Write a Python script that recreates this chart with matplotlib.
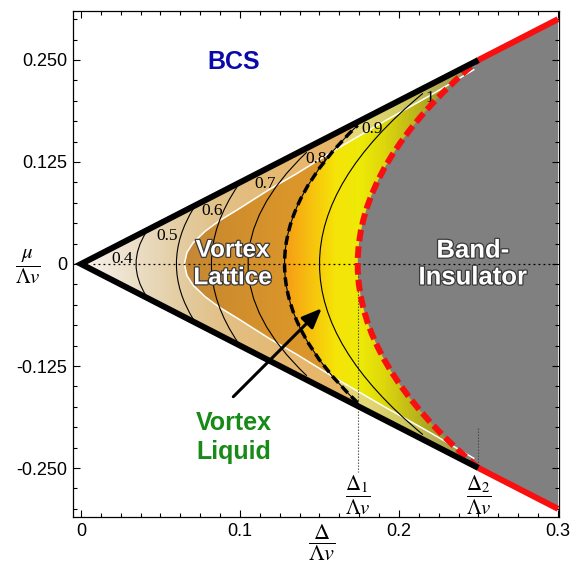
import numpy as np
import matplotlib.pyplot as plt
import matplotlib.patheffects as pe
from matplotlib.path import Path
from matplotlib.patches import PathPatch
from matplotlib.transforms import Affine2D
from matplotlib.ticker import MultipleLocator

plt.rcParams['font.family'] = ['Liberation Sans', 'DejaVu Sans']
plt.rcParams['mathtext.fontset'] = 'stix'

# values
delta_1 = 0.174
delta_2 = 0.25
delta_max = 0.3

# thin contour lines: apex on mu=0 and upper end (mirrored for mu<0)
contour_vertex = [0.0346, 0.060, 0.082, 0.105, 0.150]
contour_end_x = [0.041, 0.071, 0.099, 0.142, 0.215]
contour_end_y = [0.039, 0.069, 0.097, 0.137, 0.209]
contour_labels = ['0.4', '0.5', '0.6', '0.7', '0.8', '0.9', '1']
label_x = [0.0261, 0.0541, 0.0824, 0.1157, 0.148, 0.1833, 0.2195]
label_y = [0.0061, 0.0343, 0.065, 0.098, 0.1287, 0.1654, 0.204]

# melting line (black dashed) and band insulator line (red dashed)
melt_vertex, melt_end_x, melt_end_y = 0.128, 0.174, 0.170
band_vertex, band_end_x, band_end_y = delta_1, delta_2, delta_2

# white line, upper half
white_x = [0.065, 0.0666, 0.0705, 0.078, 0.087, 0.098, 0.119, 0.135, 0.16, 0.19, 0.22, 0.247]
white_y = [0.0, 0.014, 0.026, 0.04, 0.053, 0.066, 0.092, 0.11, 0.14, 0.174, 0.207, 0.238]

x_ticks = [0, 0.1, 0.2, 0.3]
x_tick_labels = ['0', '0.1', '0.2', '0.3']
y_ticks = [-0.25, -0.125, 0, 0.125, 0.25]
y_tick_labels = ['-0.250', '-0.125', '0', '0.125', '0.250']

# colour ramps along Delta
lat_dark = ([0, 0.03, 0.065, 0.09, 0.13],
            [(246, 240, 232), (232, 214, 182), (196, 136, 56), (206, 140, 46), (218, 150, 42)])
lat_light = ([0, 0.035, 0.06, 0.08, 0.1, 0.13, 0.175],
             [(247, 243, 237), (235, 222, 198), (228, 206, 165), (226, 196, 142),
              (226, 190, 128), (230, 184, 112), (232, 180, 100)])
liq_dark = ([0.12, 0.13, 0.145, 0.16, 0.175, 0.19, 0.205, 0.225, 0.25],
            [(243, 140, 30), (246, 160, 22), (247, 195, 14), (245, 228, 8), (238, 234, 6),
             (222, 216, 12), (196, 190, 24), (160, 154, 40), (122, 120, 62)])
liq_light = ([0.16, 0.18, 0.21, 0.25],
             [(232, 214, 120), (228, 216, 118), (200, 194, 88), (140, 136, 72)])


def ramp(xs, spec):
    anchors, colors = spec
    c = np.array(colors) / 255.0
    return np.stack([np.interp(xs, anchors, c[:, i]) for i in range(3)], axis=-1)


def parabola(x0, xe, ye):
    # quadratic bezier from lower end to upper end with apex (x0, 0)
    return Path([(xe, -ye), (2 * x0 - xe, 0.0), (xe, ye)],
                [Path.MOVETO, Path.CURVE3, Path.CURVE3])


def flat(path):
    # curves flattened to a plain polygon for hit testing (scaled up so the
    # curve approximation is fine enough)
    poly = path.to_polygons(transform=Affine2D().scale(5000), closed_only=False)[0]
    return Path(poly / 5000.0)


fig = plt.figure(figsize=(5.83, 5.67), dpi=100)
ax = fig.add_axes([73 / 583, 1 - 517 / 567, 486 / 583, 506 / 567])

# regions
band_ctrl = 2 * band_vertex - band_end_x
color_path = Path([(0, 0), (band_end_x, band_end_y), (band_ctrl, 0), (band_end_x, -band_end_y), (0, 0)],
                  [Path.MOVETO, Path.LINETO, Path.CURVE3, Path.CURVE3, Path.CLOSEPOLY])
gray_path = Path([(band_end_x, -band_end_y), (band_ctrl, 0), (band_end_x, band_end_y),
                  (delta_max, delta_max), (delta_max, -delta_max), (band_end_x, -band_end_y)],
                 [Path.MOVETO, Path.CURVE3, Path.CURVE3, Path.LINETO, Path.LINETO, Path.CLOSEPOLY])
melt_ctrl = 2 * melt_vertex - melt_end_x
melt_left = Path([(melt_end_x, -melt_end_y), (melt_ctrl, 0), (melt_end_x, melt_end_y),
                  (melt_end_x, 0.4), (-0.1, 0.4), (-0.1, -0.4), (melt_end_x, -0.4), (melt_end_x, -melt_end_y)],
                 [Path.MOVETO, Path.CURVE3, Path.CURVE3] + [Path.LINETO] * 4 + [Path.CLOSEPOLY])
wx = np.array(white_x)
wy = np.array(white_y)
white_line_x = np.concatenate([wx[::-1], wx[1:]])
white_line_y = np.concatenate([-wy[::-1], wy[1:]])
white_in = Path(list(zip(white_line_x, white_line_y)) + [(0.4, 0.4), (0.4, -0.4), (wx[-1], -wy[-1])],
                closed=True)

gx = np.linspace(0, delta_max, 900)
gy = np.linspace(-delta_max, delta_max, 900)
XX, YY = np.meshgrid(gx, gy)
pts = np.column_stack([XX.ravel(), YY.ravel()])
in_color = flat(color_path).contains_points(pts, radius=-0.002).reshape(XX.shape)
left_melt = flat(melt_left).contains_points(pts).reshape(XX.shape)
in_white = white_in.contains_points(pts).reshape(XX.shape)

rgb = np.where(left_melt[..., None],
               np.where(in_white[..., None], ramp(XX, lat_dark), ramp(XX, lat_light)),
               np.where(in_white[..., None], ramp(XX, liq_dark), ramp(XX, liq_light)))
rgba = np.dstack([rgb, in_color.astype(float)])
ax.imshow(rgba, extent=(0, delta_max, -delta_max, delta_max), origin='lower',
          aspect='auto', interpolation='bilinear', zorder=1)
ax.add_patch(PathPatch(gray_path, facecolor='#808080', edgecolor='none', zorder=1.2))

# white line and contours
ax.plot(white_line_x, white_line_y, color='white', lw=1.1, zorder=2)
for x0, xe, ye in zip(contour_vertex, contour_end_x, contour_end_y):
    ax.add_patch(PathPatch(parabola(x0, xe, ye), fill=False, edgecolor='k', lw=0.8, zorder=3))
for t, lx, ly in zip(contour_labels, label_x, label_y):
    ax.text(lx, ly, t, fontsize=12.5, family='Liberation Serif', ha='center', va='center', zorder=3.2)

# dotted guide lines
ax.plot([0.0075, delta_max], [0, 0], color='k', lw=0.9, ls=(0, (1.5, 2.5)), zorder=3.5)
ax.plot([delta_1, delta_1], [0, -0.255], color='#444444', lw=0.8, ls=(0, (1.2, 1.5)), zorder=3.5)
ax.plot([delta_2, delta_2], [-0.201, -0.25], color='#444444', lw=0.8, ls=(0, (1.2, 1.5)), zorder=3.5)

# melting line and band insulator line
melt = parabola(melt_vertex, melt_end_x, melt_end_y)
ax.add_patch(PathPatch(melt, fill=False, edgecolor='k', lw=0.8, zorder=4))
ax.add_patch(PathPatch(melt, fill=False, edgecolor='k', lw=2.5, ls=(0, (2.6, 1.4)), zorder=4))
ax.add_patch(PathPatch(parabola(band_vertex, band_end_x, band_end_y), fill=False,
                       edgecolor='#f81010', lw=4.3, ls=(0, (1.95, 0.85)), capstyle='butt', zorder=4))

# wedge boundaries
ax.plot([delta_2, 0, delta_2], [delta_2, 0, -delta_2], color='k', lw=4.3,
        solid_joinstyle='miter', solid_capstyle='butt', zorder=5)
ax.plot([delta_2, delta_max], [delta_2, delta_max], color='#f81010', lw=4.3, solid_capstyle='butt', zorder=5)
ax.plot([delta_2, delta_max], [-delta_2, -delta_max], color='#f81010', lw=4.3, solid_capstyle='butt', zorder=5)

# phase labels
outline = [pe.Stroke(linewidth=1.8, foreground='#3a3a3a'), pe.Normal()]
ax.text(0.0959, 0.247, 'BCS', color='#0a0aa8', fontsize=18, fontweight='bold',
        ha='center', va='center', zorder=6)
ax.text(0.0953, 0.0, 'Vortex\nLattice', color='white', fontsize=17.5, fontweight='bold',
        ha='center', va='center', linespacing=1.25, path_effects=outline, zorder=6)
ax.text(0.2465, 0.0, 'Band-\nInsulator', color='white', fontsize=18.5, fontweight='bold',
        ha='center', va='center', linespacing=1.15, path_effects=outline, zorder=6)
ax.text(0.0962, -0.213, 'Vortex\nLiquid', color='#178a17', fontsize=18, fontweight='bold',
        ha='center', va='center', linespacing=1.25, zorder=6)
ax.annotate('', xy=(0.1514, -0.0543), xytext=(0.0958, -0.1626), zorder=6,
            arrowprops=dict(arrowstyle='-|>,head_length=0.6,head_width=0.25', lw=2.2,
                            color='k', mutation_scale=20, shrinkA=0, shrinkB=0))

ax.text(delta_1, -0.283, r'$\dfrac{\Delta_1}{\Lambda v}$', fontsize=15, ha='center', va='center')
ax.text(delta_2, -0.283, r'$\dfrac{\Delta_2}{\Lambda v}$', fontsize=15, ha='center', va='center')
fig.text(322 / 583, 1 - 543 / 567, r'$\dfrac{\Delta}{\Lambda v}$', fontsize=16, ha='center', va='center')
fig.text(27.5 / 583, 1 - 266.5 / 567, r'$\dfrac{\mu}{\Lambda v}$', fontsize=15, ha='center', va='center')

ax.set_xlim(-0.00503, 0.30063)
ax.set_ylim(-0.31, 0.31)
ax.set_xticks(x_ticks, x_tick_labels)
ax.set_yticks(y_ticks, y_tick_labels)
ax.xaxis.set_minor_locator(MultipleLocator(0.0125))
ax.yaxis.set_minor_locator(MultipleLocator(0.025))
ax.tick_params(which='both', direction='in', top=True, right=True, labelsize=13, width=0.8, pad=4)
ax.tick_params(which='major', length=5)
ax.tick_params(which='minor', length=3)
for s in ax.spines.values():
    s.set_linewidth(0.9)

fig.savefig('out.png', dpi=100)
